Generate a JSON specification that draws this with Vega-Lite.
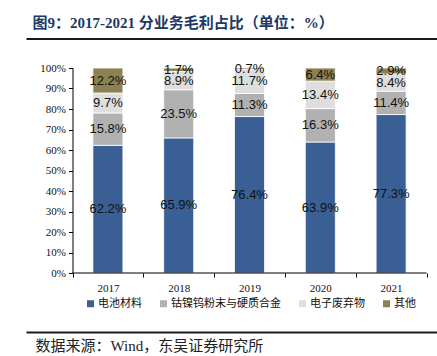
{
  "$schema": "https://vega.github.io/schema/vega-lite/v6.json",
  "width": 411,
  "height": 205,
  "autosize": {"type": "none"},
  "padding": {"left": 26, "top": 68, "right": 0, "bottom": 83},
  "background": "white",
  "config": {"view": {"stroke": null}, "axis": {"grid": false}},
  "data": {
    "values": [
      {"year": "2017", "category": "电池材料", "idx": 1, "value": 0.622},
      {"year": "2017", "category": "钴镍钨粉末与硬质合金", "idx": 2, "value": 0.158},
      {"year": "2017", "category": "电子废弃物", "idx": 3, "value": 0.097},
      {"year": "2017", "category": "其他", "idx": 4, "value": 0.122},
      {"year": "2018", "category": "电池材料", "idx": 1, "value": 0.659},
      {"year": "2018", "category": "钴镍钨粉末与硬质合金", "idx": 2, "value": 0.235},
      {"year": "2018", "category": "电子废弃物", "idx": 3, "value": 0.089},
      {"year": "2018", "category": "其他", "idx": 4, "value": 0.017},
      {"year": "2019", "category": "电池材料", "idx": 1, "value": 0.764},
      {"year": "2019", "category": "钴镍钨粉末与硬质合金", "idx": 2, "value": 0.113},
      {"year": "2019", "category": "电子废弃物", "idx": 3, "value": 0.117},
      {"year": "2019", "category": "其他", "idx": 4, "value": 0.007},
      {"year": "2020", "category": "电池材料", "idx": 1, "value": 0.639},
      {"year": "2020", "category": "钴镍钨粉末与硬质合金", "idx": 2, "value": 0.163},
      {"year": "2020", "category": "电子废弃物", "idx": 3, "value": 0.134},
      {"year": "2020", "category": "其他", "idx": 4, "value": 0.064},
      {"year": "2021", "category": "电池材料", "idx": 1, "value": 0.773},
      {"year": "2021", "category": "钴镍钨粉末与硬质合金", "idx": 2, "value": 0.114},
      {"year": "2021", "category": "电子废弃物", "idx": 3, "value": 0.084},
      {"year": "2021", "category": "其他", "idx": 4, "value": 0.029}
    ]
  },
  "resolve": {"axis": {"x": "independent"}},
  "layer": [
    {
      "mark": {"type": "bar", "width": {"band": 0.424}, "stroke": "white", "strokeWidth": 0.8},
      "encoding": {
        "x": {
          "field": "year", "type": "nominal",
          "scale": {"paddingInner": 0, "paddingOuter": 0.4025, "align": 0.816},
          "axis": {
            "orient": "bottom", "domain": false, "ticks": true, "tickBand": "extent",
            "tickSize": 4, "tickColor": "#000", "labelAngle": 0,
            "labelFont": "Liberation Serif", "labelFontSize": 11, "labelColor": "#111",
            "labelPadding": 5, "title": null
          }
        },
        "y": {
          "field": "value", "type": "quantitative", "stack": "normalize",
          "scale": {"domain": [0, 1], "nice": false},
          "axis": {
            "orient": "left", "offset": -46.5,
            "values": [0, 0.1, 0.2, 0.3, 0.4, 0.5, 0.6, 0.7, 0.8, 0.9, 1],
            "labelOverlap": false,
            "format": ".0%", "labelFont": "Liberation Serif", "labelFontSize": 11,
            "labelColor": "#111", "tickSize": 4, "tickColor": "#000",
            "domainColor": "#000", "labelPadding": 3, "title": null
          }
        },
        "color": {
          "field": "category", "type": "nominal",
          "scale": {
            "domain": ["电池材料", "钴镍钨粉末与硬质合金", "电子废弃物", "其他"],
            "range": ["#3A5F94", "#B1B1B1", "#DEDEDE", "#8C8152"]
          },
          "legend": {
            "orient": "none", "legendX": 59, "legendY": 230, "direction": "horizontal",
            "title": null, "symbolType": "square", "symbolSize": 49, "symbolStrokeWidth": 0,
            "labelFont": "Noto Sans CJK SC", "labelFontSize": 11, "labelColor": "#111",
            "labelOffset": 2, "columnPadding": 16, "padding": 0
          }
        },
        "order": {"field": "idx", "type": "quantitative", "sort": "ascending"}
      }
    },
    {
      "mark": {"type": "text", "font": "Liberation Sans", "fontSize": 13, "color": "#111"},
      "encoding": {
        "x": {"field": "year", "type": "nominal", "axis": null},
        "y": {
          "field": "value", "type": "quantitative", "stack": "normalize", "bandPosition": 0.5,
          "axis": {
            "orient": "left", "offset": -46.5,
            "values": [0, 0.1, 0.2, 0.3, 0.4, 0.5, 0.6, 0.7, 0.8, 0.9, 1],
            "labelOverlap": false,
            "format": ".0%", "labelFont": "Liberation Serif", "labelFontSize": 11,
            "labelColor": "#111", "tickSize": 4, "tickColor": "#000",
            "domainColor": "#000", "labelPadding": 3, "title": null
          }
        },
        "detail": {"field": "category"},
        "order": {"field": "idx", "type": "quantitative", "sort": "ascending"},
        "text": {"field": "value", "type": "quantitative", "format": ".1%"}
      }
    },
    {
      "data": {"values": [{"first": "2017", "last": "2021", "base": 0}]},
      "mark": {"type": "rule", "color": "#000", "strokeWidth": 1},
      "encoding": {
        "x": {"field": "first", "type": "nominal", "bandPosition": 0, "axis": null},
        "x2": {"field": "last", "bandPosition": 1},
        "y": {
          "field": "base", "type": "quantitative",
          "axis": {
            "orient": "left", "offset": -46.5,
            "values": [0, 0.1, 0.2, 0.3, 0.4, 0.5, 0.6, 0.7, 0.8, 0.9, 1],
            "labelOverlap": false,
            "format": ".0%", "labelFont": "Liberation Serif", "labelFontSize": 11,
            "labelColor": "#111", "tickSize": 4, "tickColor": "#000",
            "domainColor": "#000", "labelPadding": 3, "title": null
          }
        }
      }
    },
    {
      "mark": {"type": "point", "opacity": 0},
      "encoding": {
        "x": {
          "field": "year", "type": "nominal",
          "axis": {
            "orient": "top", "offset": 29.5, "domain": true, "domainWidth": 2,
            "domainColor": "#1a1a1a", "ticks": false, "labels": false,
            "title": "图9：2017-2021 分业务毛利占比（单位：%）",
            "titleX": 6, "titleY": -16.5, "titleAlign": "left", "titleBaseline": "middle",
            "titleAngle": 0, "titleFont": "Liberation Serif, Noto Sans CJK SC",
            "titleFontSize": 15, "titleFontWeight": "bold", "titleColor": "#203864"
          }
        }
      }
    },
    {
      "mark": {"type": "point", "opacity": 0},
      "encoding": {
        "x": {
          "field": "year", "type": "nominal",
          "axis": {
            "orient": "bottom", "offset": 59, "domain": true, "domainWidth": 2,
            "domainColor": "#1a1a1a", "ticks": false, "labels": false,
            "title": "数据来源：Wind，东吴证券研究所",
            "titleX": 9, "titleY": 13, "titleAlign": "left", "titleBaseline": "middle",
            "titleAngle": 0, "titleFont": "Liberation Serif, Noto Sans CJK SC",
            "titleFontSize": 15, "titleFontWeight": "normal", "titleColor": "#222"
          }
        }
      }
    }
  ]
}
